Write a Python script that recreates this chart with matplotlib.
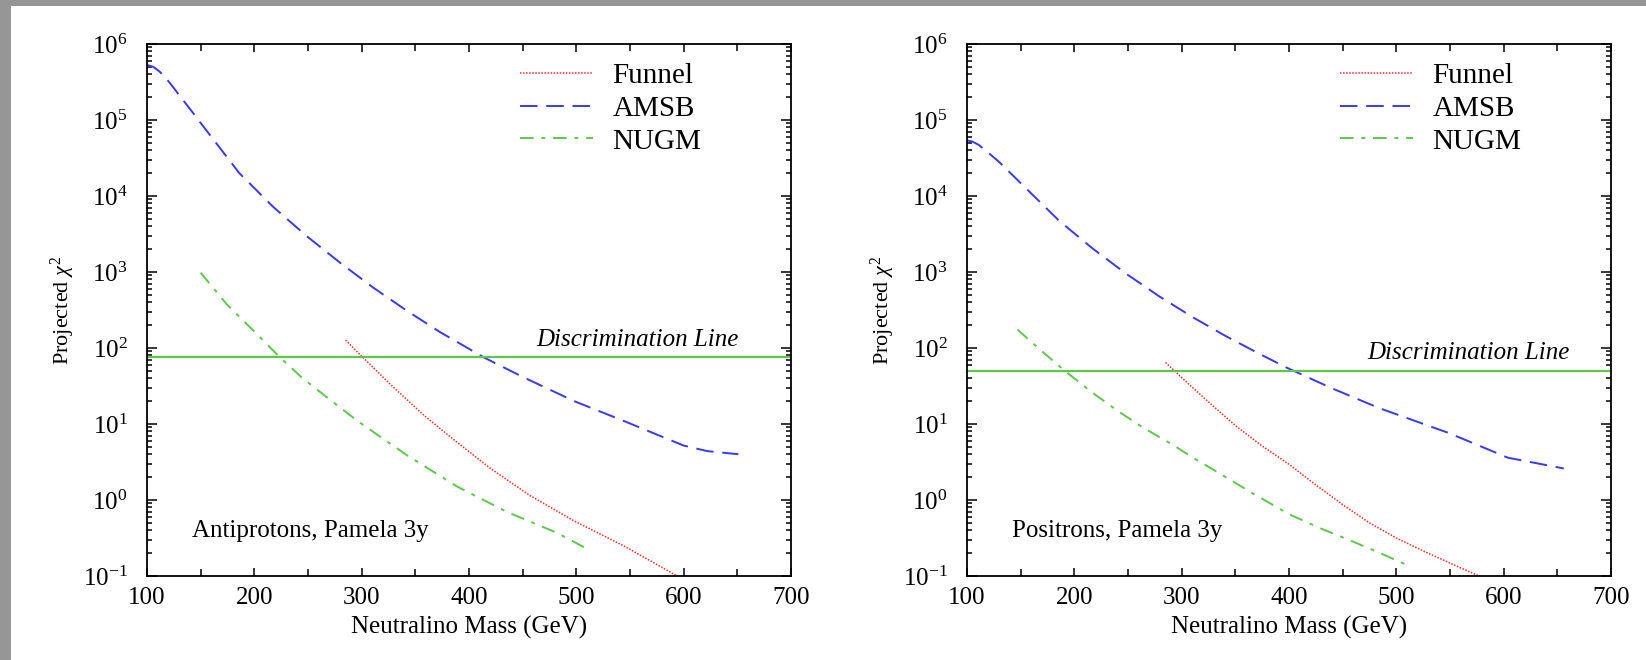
import numpy as np
import matplotlib.pyplot as plt
from matplotlib.patches import Rectangle
from matplotlib.ticker import LogLocator, NullFormatter, MultipleLocator
import matplotlib.transforms as mtransforms

plt.rcParams['font.family'] = ['Liberation Serif', 'DejaVu Serif']
plt.rcParams['mathtext.fontset'] = 'custom'
plt.rcParams['mathtext.rm'] = 'Liberation Serif'
plt.rcParams['mathtext.it'] = 'Liberation Serif:italic'
plt.rcParams['mathtext.bf'] = 'Liberation Serif:bold'

# antiprotons, Pamela 3y
pbar_amsb_m = [100, 106, 112, 118, 124, 132, 140, 155, 186, 218, 249, 280, 311, 342, 373, 414, 451, 498, 544, 600, 622, 651]
pbar_amsb_chi = [5.3e5, 5.0e5, 4.3e5, 3.5e5, 2.75e5, 1.95e5, 1.4e5, 7.4e4, 2.0e4, 7.1e3, 2.95e3, 1.32e3, 620, 310, 162, 75, 41, 20, 11, 5.2, 4.4, 4.0]
pbar_nugm_m = [150, 174, 199, 224, 245, 265, 296, 342, 389, 436, 482, 512]
pbar_nugm_chi = [980, 380, 170, 75, 40, 24, 11, 3.9, 1.5, 0.69, 0.37, 0.22]
pbar_funnel_m = [285, 300, 327, 358, 386, 420, 457, 498, 544, 594]
pbar_funnel_chi = [127, 78, 33, 13, 6.2, 2.6, 1.14, 0.53, 0.25, 0.10]
pbar_disc = 75

# positrons, Pamela 3y
pos_amsb_m = [100, 105, 111, 120, 130, 155, 186, 217, 248, 279, 311, 342, 373, 398, 440, 484, 549, 604, 656]
pos_amsb_chi = [5.4e4, 5.2e4, 4.7e4, 3.7e4, 2.8e4, 1.26e4, 4.7e3, 2.04e3, 955, 479, 251, 141, 83, 55, 29.5, 16.2, 7.6, 3.6, 2.6]
pos_nugm_m = [147, 170, 192, 215, 240, 265, 291, 312, 334, 365, 400, 430, 458, 485, 512]
pos_nugm_chi = [175, 90, 49, 27, 15, 8.8, 5.4, 3.5, 2.3, 1.25, 0.65, 0.42, 0.29, 0.2, 0.135]
pos_funnel_m = [285, 300, 325, 350, 375, 400, 425, 450, 475, 500, 525, 550, 577]
pos_funnel_chi = [64.6, 40.7, 19.5, 9.55, 5.13, 2.95, 1.58, 0.87, 0.5, 0.316, 0.214, 0.148, 0.1]
pos_disc = 50

panels = [
    ("Antiprotons, Pamela 3y", pbar_funnel_m, pbar_funnel_chi, pbar_amsb_m, pbar_amsb_chi,
     pbar_nugm_m, pbar_nugm_chi, pbar_disc, 0.918),
    ("Positrons, Pamela 3y", pos_funnel_m, pos_funnel_chi, pos_amsb_m, pos_amsb_chi,
     pos_nugm_m, pos_nugm_chi, pos_disc, 0.936),
]

RED = '#ff2a2a'
BLUE = '#3838ff'
GREEN = '#5cc84a'

fig = plt.figure(figsize=(16.46, 6.6), dpi=100, facecolor='#969696')
fig.patches.append(Rectangle((11 / 1646, 0), 1, 1 - 6 / 660, transform=fig.transFigure,
                             facecolor='white', edgecolor='none', zorder=-1))

lefts = [147 / 1646, 967 / 1646]
for left, (label, fm, fc, am, ac, nm, nc, disc, dx) in zip(lefts, panels):
    ax = fig.add_axes([left, 84 / 660, 644 / 1646, 532 / 660])
    ax.set_yscale('log')
    ax.set_xlim(100, 700)
    ax.set_ylim(0.1, 1e6)

    ax.plot(fm, fc, color=RED, lw=1.1, ls=(0, (1, 1)), label='Funnel')
    ax.plot(am, ac, color=BLUE, lw=1.4, ls=(0, (9, 4.5)), label='AMSB')
    ax.plot(nm, nc, color=GREEN, lw=1.4, ls=(0, (7, 4, 2, 4)), label='NUGM')
    ax.axhline(disc, color=GREEN, lw=1.6)

    trans = mtransforms.blended_transform_factory(ax.transAxes, ax.transData)
    ax.annotate('Discrimination Line', xy=(dx, disc), xycoords=trans,
                xytext=(0, 5), textcoords='offset points',
                ha='right', va='bottom', fontsize=18, style='italic')
    ax.text(0.07, 0.073, label, transform=ax.transAxes, fontsize=18, va='baseline')

    leg = ax.legend(loc='upper left', bbox_to_anchor=(0.579, 0.965), frameon=False,
                    fontsize=21, handlelength=2.5, handletextpad=0.68,
                    labelspacing=0.22, borderpad=0, borderaxespad=0)

    ax.xaxis.set_major_locator(MultipleLocator(100))
    ax.xaxis.set_minor_locator(MultipleLocator(50))
    ax.yaxis.set_major_locator(LogLocator(base=10, numticks=20))
    ax.yaxis.set_minor_locator(LogLocator(base=10, subs=np.arange(2, 10), numticks=20))
    ax.yaxis.set_minor_formatter(NullFormatter())
    ax.tick_params(which='both', direction='in', top=True, right=True, width=1.1)
    ax.tick_params(axis='x', which='major', length=6, labelsize=18, pad=8)
    ax.tick_params(axis='x', which='minor', length=5)
    ax.tick_params(axis='y', which='major', length=7, labelsize=18, pad=14)
    ax.tick_params(axis='y', which='minor', length=3.5)
    for s in ax.spines.values():
        s.set_linewidth(1.3)

    ax.set_xlabel('Neutralino Mass (GeV)', fontsize=18, labelpad=5)
    ax.set_ylabel(r'Projected $\chi^2$', fontsize=16)
    ax.yaxis.set_label_coords(-0.108, 0.5)

fig.savefig('out.png', dpi=100, facecolor=fig.get_facecolor())
